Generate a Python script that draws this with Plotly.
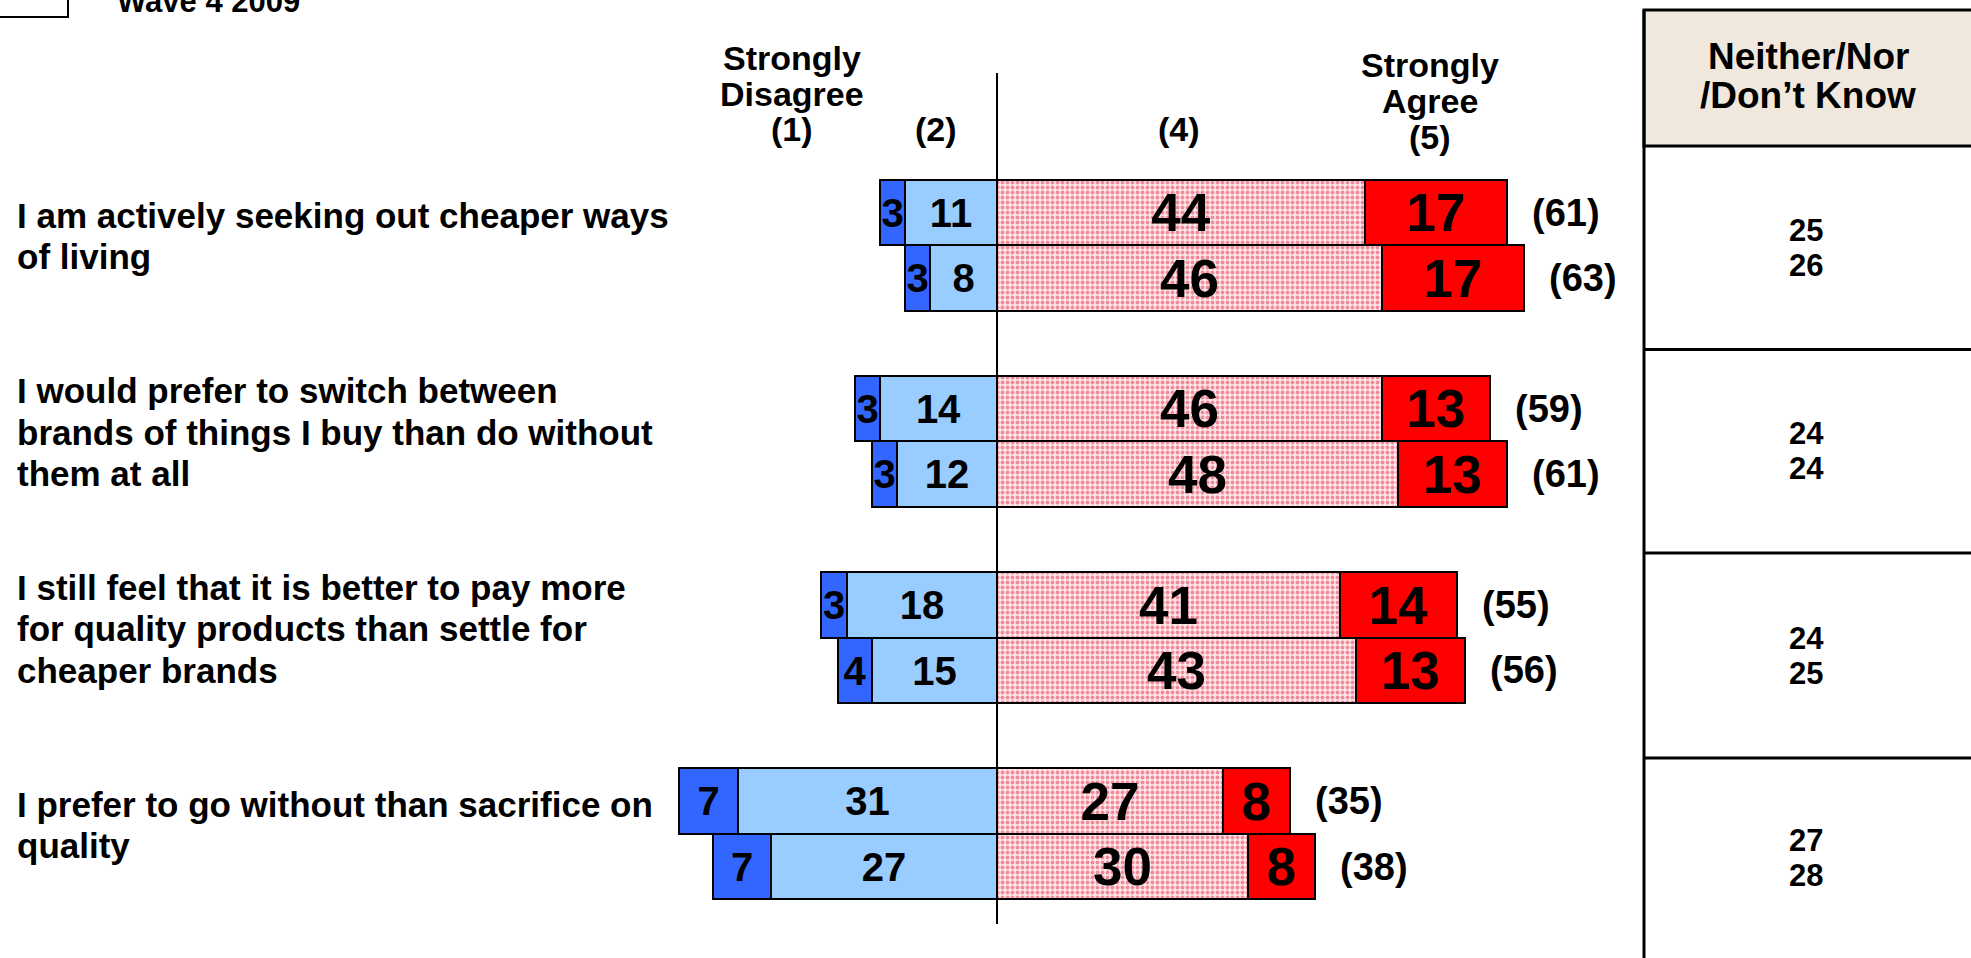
import plotly.graph_objects as go

# ---- data -------------------------------------------------------------
statements = [
    "I am actively seeking out cheaper ways<br>of living",
    "I would prefer to switch between<br>brands of things I buy than do without<br>them at all",
    "I still feel that it is better to pay more<br>for quality products than settle for<br>cheaper brands",
    "I prefer to go without than sacrifice on<br>quality",
]
# each statement has two waves (upper bar, lower bar)
strongly_disagree = [[3, 3], [3, 3], [3, 4], [7, 7]]
disagree = [[11, 8], [14, 12], [18, 15], [31, 27]]
agree = [[44, 46], [46, 48], [41, 43], [27, 30]]
strongly_agree = [[17, 17], [13, 13], [14, 13], [8, 8]]
neither_dont_know = [[25, 26], [24, 24], [24, 25], [27, 28]]

scale_headers = ["Strongly<br>Disagree<br>(1)", "(2)", "(4)", "Strongly<br>Agree<br>(5)"]
table_header = "Neither/Nor<br>/Don\u2019t Know"
legend_label = "Wave 4 2009"

# ---- layout constants (pixels) -----------------------------------------
W, H = 1971, 958
ZERO_PX = 997.0          # horizontal position of the 0 line
PX_PER_UNIT = 8.36       # pixels per percentage point
BAR_PX = 65.4            # height of one bar
FIRST_BAR_PX = 212.5     # centre of the first bar
GROUP_STEP = 3           # bar slots per statement

FONT = "Liberation Sans, Arial, sans-serif"
DARK_BLUE = "#3366FF"
LIGHT_BLUE = "#99CCFF"
RED = "#FF0000"
TAN = "#F1E8DD"


def px(xp):
    return xp / W


def py(yp):
    return 1 - yp / H


# ---- flatten rows --------------------------------------------------------
ys, sd, d, a, sa = [], [], [], [], []
for g in range(len(statements)):
    for w in range(2):
        ys.append(g * GROUP_STEP + w)
        sd.append(strongly_disagree[g][w])
        d.append(disagree[g][w])
        a.append(agree[g][w])
        sa.append(strongly_agree[g][w])

bar_line = dict(color="black", width=2)
common = dict(orientation="h", width=1, textposition="inside",
              insidetextanchor="middle", constraintext="none", textangle=0,
              hoverinfo="skip", showlegend=False, cliponaxis=False)

fig = go.Figure()
fig.add_trace(go.Bar(
    y=ys, x=[-v for v in d], text=[str(v) for v in d],
    marker=dict(color=LIGHT_BLUE, line=bar_line),
    insidetextfont=dict(family=FONT, size=40, color="black", weight="bold"),
    **common))
fig.add_trace(go.Bar(
    y=ys, x=[-v for v in sd], text=[str(v) for v in sd],
    marker=dict(color=DARK_BLUE, line=bar_line),
    insidetextfont=dict(family=FONT, size=40, color="black", weight="bold"),
    **common))
fig.add_trace(go.Bar(
    y=ys, x=a, text=[str(v) for v in a],
    marker=dict(color="#FBE3E6", line=bar_line,
                pattern=dict(shape=".", fgcolor="#E8304A", bgcolor="#FCE6E8",
                             size=5, solidity=0.45)),
    insidetextfont=dict(family=FONT, size=53, color="black", weight="bold"),
    **common))
fig.add_trace(go.Bar(
    y=ys, x=sa, text=[str(v) for v in sa],
    marker=dict(color=RED, line=bar_line),
    insidetextfont=dict(family=FONT, size=53, color="black", weight="bold"),
    **common))

annotations = []

# net agree figures to the right of each bar
for yv, v4, v5 in zip(ys, a, sa):
    annotations.append(dict(
        x=v4 + v5, y=yv, xref="x", yref="y", text=f"({v4 + v5})",
        xanchor="left", yanchor="middle", xshift=23, showarrow=False,
        font=dict(family=FONT, size=38, color="black", weight="bold")))

# statement labels, one annotation per line
LINE_PX = 41.5
for g, s in enumerate(statements):
    lines = s.split("<br>")
    n = len(lines)
    for i, ln in enumerate(lines):
        annotations.append(dict(
            x=px(15), y=g * GROUP_STEP + 0.5, xref="paper", yref="y",
            text=ln, xanchor="left", yanchor="middle",
            yshift=-(i - (n - 1) / 2) * LINE_PX + 9,
            showarrow=False,
            font=dict(family=FONT, size=35, color="black", weight="bold")))

# scale point headings
header_pos = [(792, [58, 93.5, 129]), (936, [129]), (1179, [129]), (1430, [65, 101, 137])]
for text, (xc, rows) in zip(scale_headers, header_pos):
    for ln, yc in zip(text.split("<br>"), rows):
        annotations.append(dict(
            x=px(xc), y=py(yc), xref="paper", yref="paper", text=ln,
            xanchor="center", yanchor="middle", showarrow=False,
            font=dict(family=FONT, size=34, color="black", weight="bold")))

# neither / don't know table
TABLE_X = 1644
TABLE_TOP = 10
row_edges = [146, 349.5, 553, 758, 958]
for ln, yc in zip(table_header.split("<br>"), [57, 96]):
    annotations.append(dict(
        x=px((TABLE_X + W) / 2 + 0.5), y=py(yc), xref="paper", yref="paper",
        text=ln, xanchor="center", yanchor="middle", showarrow=False,
        font=dict(family=FONT, size=37, color="black", weight="bold")))
for g, pair in enumerate(neither_dont_know):
    yc = (row_edges[g] + row_edges[g + 1]) / 2
    for k, v in enumerate(pair):
        annotations.append(dict(
            x=px(1806), y=py(yc + (k - 0.5) * 35), xref="paper", yref="paper",
            text=str(v), xanchor="center", yanchor="middle", showarrow=False,
            font=dict(family=FONT, size=31, color="black", weight="bold")))

# legend entry partly above the top edge
annotations.append(dict(
    x=px(115), y=py(2), xref="paper", yref="paper", text=legend_label,
    xanchor="left", yanchor="middle", showarrow=False,
    font=dict(family=FONT, size=31, color="black", weight="bold")))

shapes = [
    # zero line
    dict(type="line", xref="x", yref="paper", x0=0, x1=0, y0=py(73), y1=py(924),
         line=dict(color="black", width=2), layer="above"),
    # table header cell
    dict(type="rect", xref="paper", yref="paper", x0=px(TABLE_X), x1=px(W + 10),
         y0=py(TABLE_TOP), y1=py(row_edges[0]), fillcolor=TAN,
         line=dict(color="black", width=3), layer="below"),
    dict(type="line", xref="paper", yref="paper", x0=px(TABLE_X), x1=px(TABLE_X),
         y0=py(TABLE_TOP), y1=py(H + 5), line=dict(color="black", width=3)),
    # legend swatch
    dict(type="rect", xref="paper", yref="paper", x0=px(-10), x1=px(68),
         y0=py(-30), y1=py(17), fillcolor="white",
         line=dict(color="black", width=2)),
]
for e in row_edges[1:-1]:
    shapes.append(dict(type="line", xref="paper", yref="paper", x0=px(TABLE_X), x1=px(W + 10),
                       y0=py(e), y1=py(e), line=dict(color="black", width=3)))

fig.update_layout(
    width=W, height=H, margin=dict(l=0, r=0, t=0, b=0),
    paper_bgcolor="white", plot_bgcolor="white",
    barmode="relative", bargap=0,
    xaxis=dict(range=[-ZERO_PX / PX_PER_UNIT, (W - ZERO_PX) / PX_PER_UNIT],
               visible=False, fixedrange=True),
    yaxis=dict(range=[(H - FIRST_BAR_PX) / BAR_PX, -FIRST_BAR_PX / BAR_PX],
               visible=False, fixedrange=True),
    annotations=annotations, shapes=shapes,
    hovermode=False,
)

fig.write_html("out.html", config={"displayModeBar": False})
